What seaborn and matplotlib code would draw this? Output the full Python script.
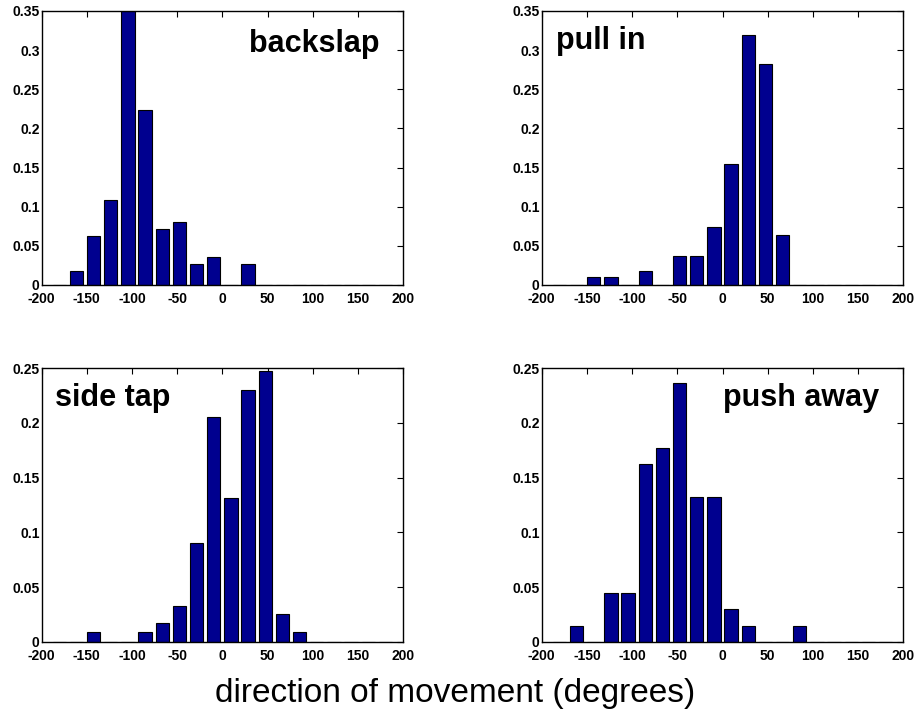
import numpy as np
import pandas as pd
import matplotlib
matplotlib.use('Agg')
import matplotlib.pyplot as plt
from matplotlib.ticker import FuncFormatter
import seaborn as sns

# ── Data (fraction of movements per 19-degree direction bin) ──
bin_centers = [-180.5, -161.5, -142.5, -123.5, -104.5, -85.5, -66.5, -47.5, -28.5, -9.5,
               9.5, 28.5, 47.5, 66.5, 85.5, 104.5, 123.5, 142.5, 161.5, 180.5]

backslap  = [0, 0.018, 0.063, 0.108, 0.35, 0.223, 0.072, 0.081, 0.027, 0.036,
             0, 0.027, 0, 0, 0, 0, 0, 0, 0, 0]
pull_in   = [0, 0, 0.0102, 0.0102, 0, 0.0183, 0, 0.037, 0.037, 0.0737,
             0.155, 0.3197, 0.2827, 0.0639, 0, 0, 0, 0, 0, 0]
side_tap  = [0, 0, 0.0088, 0, 0, 0.0088, 0.0171, 0.0329, 0.0902, 0.2058,
             0.1317, 0.2305, 0.2476, 0.0253, 0.0088, 0, 0, 0, 0, 0]
push_away = [0, 0.0146, 0, 0.0448, 0.0448, 0.1628, 0.1774, 0.2363, 0.1326, 0.1326,
             0.0296, 0.0146, 0, 0, 0.0146, 0, 0, 0, 0, 0]

gestures = ['backslap', 'pull in', 'side tap', 'push away']
series   = [backslap, pull_in, side_tap, push_away]
y_tops   = [0.35, 0.35, 0.25, 0.25]

sns.set_theme(style='white')
plt.rcParams['font.family'] = ['Liberation Sans', 'DejaVu Sans']
plt.rcParams['axes.unicode_minus'] = False

W, H = 917, 711
fig = plt.figure(figsize=(W / 100, H / 100), dpi=100)

# axes boxes in pixels: left, top, right, bottom
boxes = [(41.7, 11, 403, 285), (541.7, 11, 903.3, 285),
         (41.7, 368.3, 403, 641.7), (541.7, 368.3, 903.3, 641.7)]
# label position (axes coords) and alignment
label_pos = [(0.934, 0.85, 'right'), (0.039, 0.86, 'left'),
             (0.037, 0.863, 'left'), (0.932, 0.863, 'right')]

for name, vals, ytop, (l, t, r, b), (lx, ly, lha) in zip(gestures, series, y_tops, boxes, label_pos):
    ax = fig.add_axes([l / W, (H - b) / H, (r - l) / W, (b - t) / H])
    df = pd.DataFrame({'direction': bin_centers, 'fraction': vals})
    sns.barplot(data=df, x='direction', y='fraction', native_scale=True,
                color='#00008F', saturation=1, edgecolor='black', linewidth=0.8,
                width=0.78, errorbar=None, ax=ax)
    ax.set_xlim(-200, 200)
    ax.set_ylim(0, ytop)
    ax.set_xticks(np.arange(-200, 201, 50))
    ax.set_yticks(np.arange(0, ytop + 1e-9, 0.05))
    ax.yaxis.set_major_formatter(FuncFormatter(lambda v, p: f'{v:g}'))
    ax.set_xlabel('')
    ax.set_ylabel('')
    ax.tick_params(axis='both', direction='in', top=True, right=True,
                   length=4, width=0.8, color='black', labelsize=10, labelcolor='black')
    ax.tick_params(axis='x', pad=5)
    ax.tick_params(axis='y', pad=1.5)
    for lab in ax.get_xticklabels() + ax.get_yticklabels():
        lab.set_fontweight('bold')
    for s in ax.spines.values():
        s.set_visible(True)
        s.set_color('black')
        s.set_linewidth(1.0)
    ax.text(lx, ly, name, transform=ax.transAxes, ha=lha, va='baseline',
            fontsize=22, fontweight='bold', color='black')

fig.text(0.496, 0.0127, 'direction of movement (degrees)', ha='center', va='baseline',
         fontsize=24, color='black')

fig.savefig('out.png', dpi=100, facecolor='white')
